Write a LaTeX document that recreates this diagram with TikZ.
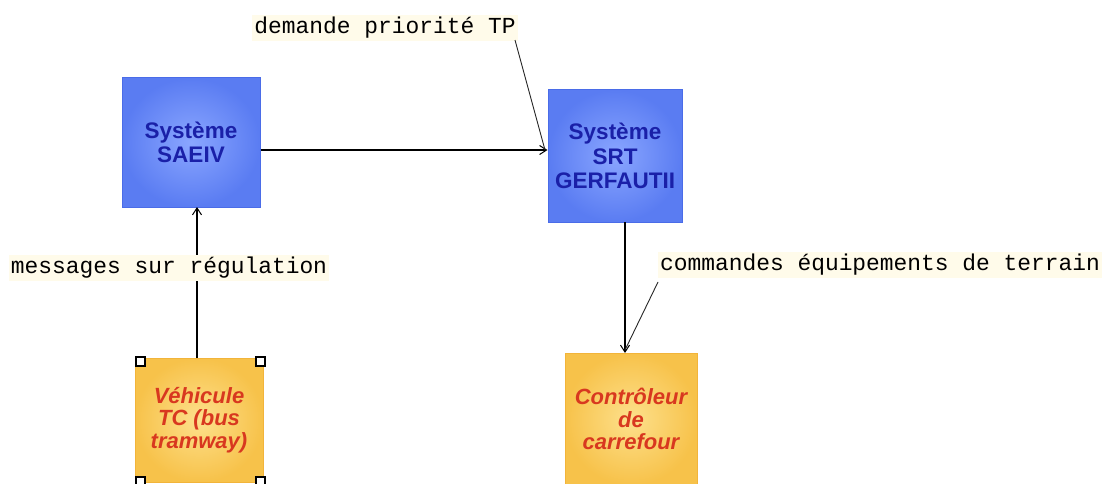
\documentclass[tikz,border=0pt]{standalone}
\usepackage{fontspec}
\setmainfont{Liberation Sans}
\newfontfamily\monofont{Liberation Mono}
\usetikzlibrary{arrows.meta}
\definecolor{bluein}{HTML}{8AA6FF}
\definecolor{blueout}{HTML}{5A7CF2}
\definecolor{blueedge}{HTML}{4A6CE8}
\definecolor{bluetext}{HTML}{1A20A8}
\definecolor{orin}{HTML}{FDE08C}
\definecolor{orout}{HTML}{F7C24A}
\definecolor{oredge}{HTML}{F2B43A}
\definecolor{redtext}{HTML}{D8381F}
\definecolor{cream}{HTML}{FFFBEA}
\tikzset{
  sysbox/.style={draw=blueedge, line width=1pt, shading=radial, inner color=bluein, outer color=blueout,
     minimum width=#1, text=bluetext, align=center, inner sep=0pt,
     font=\fontsize{22.5}{24.5}\selectfont\bfseries},
  actbox/.style={draw=oredge, line width=1pt, shading=radial, inner color=orin, outer color=orout,
     text=redtext, align=center, inner sep=0pt,
     font=\fontsize{22}{22.5}\selectfont\bfseries\itshape},
  lbl/.style={fill=cream, inner sep=2pt, font=\monofont\fontsize{22.9}{24}\selectfont},
  flow/.style={line width=1.1pt, -{Straight Barb[length=7pt,width=9pt,line width=1pt]}},
  pointer/.style={line width=0.9pt, black!85},
  handle/.style={draw=black, line width=2pt, fill=white, minimum size=9pt, inner sep=0pt}
}
\begin{document}
\begin{tikzpicture}[x=1pt,y=-1pt]
\useasboundingbox (0,0) rectangle (1105,484);
\clip (0,0) rectangle (1105,484);
\fill[white] (0,0) rectangle (1105,484);
% boxes
\node[sysbox=138pt, minimum height=129pt] (saeiv) at (191,142.5) {Système\\SAEIV};
\node[sysbox=134pt, minimum height=132pt] (srt) at (615,156) {Système\\SRT\\GERFAUTII};
\node[actbox, minimum width=128pt, minimum height=124pt] (veh) at (199,420) {Véhicule\\TC (bus\\tramway)};
\node[actbox, minimum width=132pt, minimum height=132pt] (ctrl) at (631,419) {Contrôleur\\de\\carrefour};
% handles
\node[handle] (h1) at (140,361) {};
\node[handle] (h2) at (260,361) {};
\node[handle] (h3) at (140,481) {};
\node[handle] (h4) at (260,481) {};
% flows
\coordinate (a1s) at (saeiv.east |- 0,150);
\coordinate (a1e) at (srt.west |- 0,150);
\draw[flow] (a1s) -- (a1e);
\coordinate (a2s) at (197,358);
\coordinate (a2e) at (197,207);
\draw[flow] (a2s) -- (a2e);
\coordinate (a3s) at (625,222);
\coordinate (a3e) at (625,353);
\draw[flow] (a3s) -- (a3e);
% labels
\node[lbl] (l1) at (385,28) {demande priorité TP};
\node[lbl] (l2) at (169,268) {messages sur régulation};
\node[lbl] (l3) at (880,265) {commandes équipements de terrain};
% pointers
\coordinate (p1s) at (515,40);
\coordinate (p1e) at (545,150);
\draw[pointer] (p1s) -- (p1e);
\coordinate (p3s) at (658,282);
\coordinate (p3e) at (625,350);
\draw[pointer] (p3s) -- (p3e);
\end{tikzpicture}
\end{document}
